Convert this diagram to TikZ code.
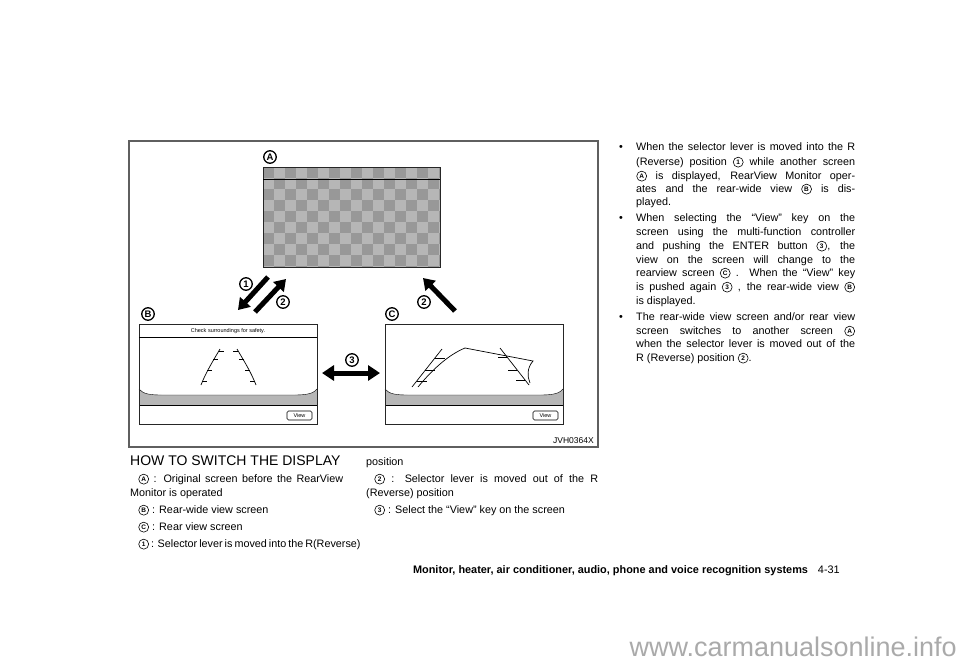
\documentclass[tikz,border=0pt]{standalone}
\usepackage{fontspec}
\usepackage{pict2e}
\setmainfont{Liberation Sans}
\usetikzlibrary{arrows.meta}
\definecolor{screengray}{RGB}{182,182,182}
\definecolor{cellgray}{RGB}{152,152,152}
\definecolor{framegray}{RGB}{95,95,95}
\definecolor{markgray}{RGB}{170,170,170}
% circled marks used in the running text
\newcommand{\circsym}[1]{\raisebox{-1.4pt}{\setlength{\unitlength}{1pt}%
    \begin{picture}(11,10)\linethickness{0.6pt}\put(5.5,5){\circle{10}}%
    \put(5.5,5){\makebox(0,0){\bfseries\fontsize{6.5}{7}\selectfont #1}}\end{picture}}}
\newcommand{\circA}{\circsym{A}}
\newcommand{\circB}{\circsym{B}}
\newcommand{\circC}{\circsym{C}}
\newcommand{\numi}{\circsym{1}}
\newcommand{\numii}{\circsym{2}}
\newcommand{\numiii}{\circsym{3}}

\begin{document}
\begin{tikzpicture}[x=1pt, y=-1pt,
    body/.style={anchor=west, inner sep=0pt, text height=8pt, text depth=2.5pt,
      font=\fontsize{10.8}{13}\selectfont},
    figlabel/.style={circle, draw, line width=1.3pt, minimum size=12.5pt, inner sep=0pt,
      font=\bfseries\fontsize{9.5}{10}\selectfont},
    screen/.style={draw=black!85, line width=0.8pt},
    guide/.style={line width=0.7pt},
    bigarrow/.style={line width=5pt, -{Triangle[width=14pt,length=11pt]}},
    viewkey/.style={draw, rounded corners=1.5pt, line width=0.6pt, minimum width=25pt,
      minimum height=9pt, inner sep=0pt, font=\fontsize{5.5}{6}\selectfont}]
    % Page
    \useasboundingbox (0,0) rectangle (960,664);
    \fill[white] (0,0) rectangle (960,664);

    % Figure frame
    \draw[framegray, line width=1.3pt] (129,141) rectangle (598,447);
    \node[anchor=east, inner sep=0pt, font=\fontsize{8.5}{9}\selectfont] (figcode) at (594,441) {JVH0364X};

    % Screen A (checker pattern)
    \begin{scope}
        \clip (263,167) rectangle (440,267);
        \fill[screengray] (263,167) rectangle (440,267);
        \foreach \i in {0,2,...,16}
            \foreach \j in {0,2,...,8} {
                \fill[cellgray] (263+\i*11,167+\j*11) rectangle ++(11,11);
                \fill[cellgray] (274+\i*11,178+\j*11) rectangle ++(11,11);
            }
    \end{scope}
    \draw[screen] (263,167) rectangle (440,267);
    \draw[line width=0.8pt] (263,179) -- (440,179);
    \node[figlabel] (labA) at (270,157) {A};

    % Screens B and C (frame, ground band, View key)
    \foreach \sx/\nm in {139/B, 385/C} {
        \begin{scope}[xshift=\sx pt]
            \fill[screengray] (0,389) .. controls (4,394) and (11,395) .. (23,395) -- (156,395)
                .. controls (169,395) and (175,393) .. (178,389) -- (178,405) -- (0,405) -- cycle;
            \draw[thin] (0,389) .. controls (4,394) and (11,395) .. (23,395) -- (156,395)
                .. controls (169,395) and (175,393) .. (178,389);
            \draw[line width=0.8pt] (0,405) -- (178,405);
            \draw[screen] (0,324) rectangle (178,424);
            \node[viewkey] (view\nm) at (160.5,415.5) {View};
        \end{scope}
    }
    \node[figlabel] (labB) at (148,314) {B};
    \node[figlabel] (labC) at (392,314) {C};

    % Screen B: message and guide lines
    \draw[line width=0.7pt] (139,337) -- (317,337);
    \node[inner sep=0pt, font=\fontsize{5.5}{6}\selectfont] (msgB) at (228,331) {Check surroundings for safety.};
    \draw[guide] (220,349) .. controls (213,361) and (206,372) .. (201,385);
    \draw[guide] (237,349) .. controls (244,361) and (251,372) .. (256,385);
    \foreach \x/\y in {219/351, 213/359, 207/370, 202/381} {
        \draw[guide] (\x,\y) -- ++(5,0);
        \draw[guide] (457-\x,\y) -- ++(-5,0);
    }

    % Screen C: guide lines
    \draw[guide] (412,387) -- (442,349);
    \draw[guide] (418,387) .. controls (432,370) and (448,355) .. (465,348) -- (533,361)
        .. controls (527,368) and (527,376) .. (530,383);
    \draw[guide] (500,348) -- (529,385);
    \foreach \x/\y in {435/358, 425/370, 417/381}
        \draw[guide] (\x,\y) -- ++(10,0);
    \foreach \x/\y in {507/357, 517/370, 525/380}
        \draw[guide] (\x,\y) -- ++(-9,0);

    % Arrows
    \coordinate (a1s) at (268,277);
    \coordinate (a1e) at (238,310);
    \coordinate (a2s) at (255,312);
    \coordinate (a2e) at (286,279);
    \coordinate (a3s) at (322,373);
    \coordinate (a3e) at (380,373);
    \coordinate (a4s) at (455,311);
    \coordinate (a4e) at (423,278);
    \draw[bigarrow] (a1s) -- (a1e);
    \draw[bigarrow] (a2s) -- (a2e);
    \draw[bigarrow] (a4s) -- (a4e);
    \draw[line width=5pt, {Triangle[width=15pt,length=12pt]}-{Triangle[width=15pt,length=12pt]}] (a3s) -- (a3e);
    \node[figlabel] (lab1) at (246,284) {1};
    \node[figlabel] (lab2) at (283,302) {2};
    \node[figlabel] (lab3) at (352,360) {3};
    \node[figlabel] (lab2c) at (424,302) {2};

    % Left text columns
    \node[body, font=\fontsize{14}{16}\selectfont] (head) at (130,463) {HOW TO SWITCH THE DISPLAY};
    \node[body] (l1) at (138,480) {\makebox[205pt][s]{\circA{} : Original screen before the RearView}};
    \node[body] (l2) at (130,494) {Monitor is operated};
    \node[body] (l3) at (138,511) {\circB{} : Rear-wide view screen};
    \node[body] (l4) at (138,528) {\circC{} : Rear view screen};
    \node[body] (l5) at (138,545) {\makebox[205pt][s]{\numi{} : Selector lever is moved into the R(Reverse)}};
    \node[body] (m1) at (366,463) {position};
    \node[body] (m2) at (374,480) {\makebox[224pt][s]{\numii{} : Selector lever is moved out of the R}};
    \node[body] (m3) at (366,494) {(Reverse) position};
    \node[body] (m4) at (374,511) {\numiii{} : Select the “View” key on the screen};

    % Right column
    \foreach \y in {148,219,318}
        \node[body] (bul\y) at (619,\y) {•};
    \foreach \n/\y/\s/\t in {
        1/148/s/{When the selector lever is moved into the R},
        2/163/s/{(Reverse) position \numi{} while another screen},
        3/177/s/{\circA{} is displayed, RearView Monitor oper-},
        4/190/s/{ates and the rear-wide view \circB{} is dis-},
        5/203/l/{played.},
        6/219/s/{When selecting the “View” key on the},
        7/233/s/{screen using the multi-function controller},
        8/247/s/{and pushing the ENTER button \numiii{}, the},
        9/261/s/{view on the screen will change to the},
        10/274/s/{rearview screen \circC{} . When the “View” key},
        11/288/s/{is pushed again \numiii{} , the rear-wide view \circB},
        12/302/l/{is displayed.},
        13/318/s/{The rear-wide view screen and/or rear view},
        14/332/s/{screen switches to another screen \circA},
        15/345/s/{when the selector lever is moved out of the},
        16/359/l/{R (Reverse) position \numii{}.}}
        \node[body] (r\n) at (636,\y) {\makebox[219pt][\s]{\t}};

    % Footer
    \node[anchor=east, inner sep=0pt, font=\fontsize{10.9}{12}\selectfont] (foot) at (840,571)
        {\textbf{Monitor, heater, air conditioner, audio, phone and voice recognition systems}\hspace{10pt}4-31};
    \node[anchor=east, inner sep=0pt, text=markgray, font=\fontsize{27}{29}\selectfont] (mark) at (957,647)
        {www.carmanualsonline.info};
\end{tikzpicture}
\end{document}
